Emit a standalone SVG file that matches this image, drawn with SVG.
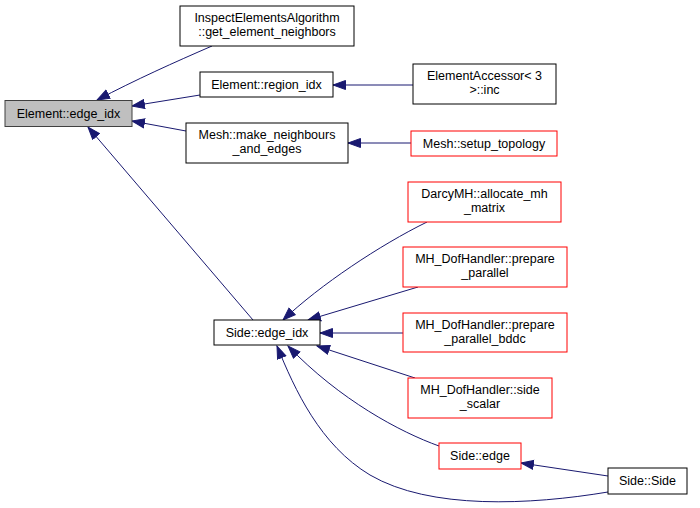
<svg xmlns="http://www.w3.org/2000/svg" width="700" height="508" viewBox="0 0 700 508">
<style>
.n rect{fill:#fff;stroke:#000;stroke-width:1}
.n.r rect{stroke:#ff0000}
.n.g rect{fill:#bfbfbf;stroke:#404040}
.n text{font-family:"Liberation Sans",Arial,sans-serif;font-size:12.5px;text-anchor:middle;fill:#000}
.e path{fill:none;stroke:#191970;stroke-width:1;marker-end:url(#ah)}
</style>
<defs>
<marker id="ah" markerUnits="userSpaceOnUse" markerWidth="14" markerHeight="11" refX="13" refY="5.5" orient="auto">
<path d="M0.5,1 L13,5.5 L0.5,10 Z" fill="#191970" stroke="#191970"/>
</marker>
</defs>
<rect width="700" height="508" fill="#fff"/>
<g class="e" id="edges">
<path d="M212,46 C175,62 135,80 97,100"/>
<path d="M200,95 L132,106"/>
<path d="M186,131 L132,121"/>
<path d="M253,320 L88,127"/>
<path d="M413,85 L333,85"/>
<path d="M411,143 L348,143"/>
<path d="M427,222 C380,245 320,285 283,320"/>
<path d="M418,287 L308,320"/>
<path d="M403,333 L320,333"/>
<path d="M415,378 L317,346"/>
<path d="M439,446 C400,432 340,400 288,346"/>
<path d="M608,476 L521,463"/>
<path d="M608,492 C530,505 430,510 370,475 C320,445 295,390 277,346"/>
</g>
<g class="n g" id="n_element_edge_idx"><rect x="5" y="100.5" width="127" height="26"/><text x="68.5" y="118">Element::edge_idx</text></g>
<g class="n" id="n_inspect"><rect x="180" y="6" width="174" height="40"/><text x="267" y="22">InspectElementsAlgorithm</text><text x="267" y="36">::get_element_neighbors</text></g>
<g class="n" id="n_region_idx"><rect x="200" y="72" width="133" height="25"/><text x="266.5" y="89">Element::region_idx</text></g>
<g class="n" id="n_make_neighbours"><rect x="186" y="123" width="162" height="40"/><text x="267" y="139">Mesh::make_neighbours</text><text x="267" y="153">_and_edges</text></g>
<g class="n" id="n_elem_accessor"><rect x="413" y="64" width="143" height="40"/><text x="484.5" y="80">ElementAccessor&lt; 3</text><text x="484.5" y="94">&gt;::inc</text></g>
<g class="n r" id="n_setup_topology"><rect x="411" y="131" width="146" height="25"/><text x="484" y="148">Mesh::setup_topology</text></g>
<g class="n r" id="n_darcy"><rect x="408" y="182" width="153" height="40"/><text x="484.5" y="198">DarcyMH::allocate_mh</text><text x="484.5" y="212">_matrix</text></g>
<g class="n r" id="n_prepare_parallel"><rect x="403" y="247" width="164" height="40"/><text x="485" y="263">MH_DofHandler::prepare</text><text x="485" y="277">_parallel</text></g>
<g class="n r" id="n_prepare_bddc"><rect x="403" y="313" width="164" height="39"/><text x="485" y="329">MH_DofHandler::prepare</text><text x="485" y="343">_parallel_bddc</text></g>
<g class="n" id="n_side_edge_idx"><rect x="214" y="320" width="106" height="25"/><text x="267" y="337">Side::edge_idx</text></g>
<g class="n r" id="n_side_scalar"><rect x="408" y="378" width="144" height="40"/><text x="480" y="394">MH_DofHandler::side</text><text x="480" y="408">_scalar</text></g>
<g class="n r" id="n_side_edge"><rect x="439" y="443" width="82" height="26"/><text x="480" y="460">Side::edge</text></g>
<g class="n" id="n_side_side"><rect x="608" y="468" width="79" height="26"/><text x="647.5" y="485">Side::Side</text></g>
</svg>
